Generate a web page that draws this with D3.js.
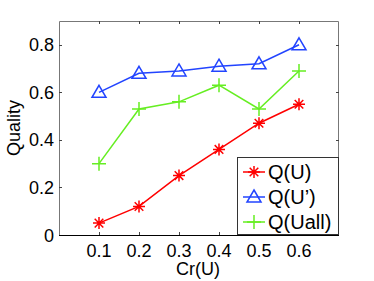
<!DOCTYPE html>
<html>
  <head>
    <meta charset="UTF-8">
    <title>Quality vs Cr(U)</title>
    <script src="https://d3js.org/d3.v7.min.js"></script>
    <style>
      body { margin: 0; background: #fff; }
      text { font-family: 'Liberation Sans', Arial, sans-serif; fill: #000; }
    </style>
  </head>
  <body>
    <div id="chart"></div>
    <script>
      const crValues = [0.1, 0.2, 0.3, 0.4, 0.5, 0.6];
      const qU = [0.05, 0.12, 0.25, 0.36, 0.47, 0.55];
      const qUPrime = [0.60, 0.68, 0.69, 0.71, 0.72, 0.80];
      const qUall = [0.30, 0.53, 0.56, 0.63, 0.53, 0.69];
      const yTicks = [0, 0.2, 0.4, 0.6, 0.8];
      const seriesNames = ['Q(U)', 'Q(U\u2019)', 'Q(Uall)'];

      const width = 374;
      const height = 281;
      const margin = { top: 21, right: 35, bottom: 46, left: 59 };

      const series = [
        { name: seriesNames[0], values: qU, color: '#ff0000', marker: 'star' },
        { name: seriesNames[1], values: qUPrime, color: '#2244ff', marker: 'triangle' },
        { name: seriesNames[2], values: qUall, color: '#66ee22', marker: 'plus' }
      ];

      const svg = d3.select('#chart')
        .append('svg')
        .attr('width', width)
        .attr('height', height);

      const x = d3.scaleLinear()
        .domain([0, 0.7])
        .range([margin.left, width - margin.right]);

      const y = d3.scaleLinear()
        .domain([0, 0.9])
        .range([height - margin.bottom, margin.top]);

      // frame
      const x0 = x.range()[0], x1 = x.range()[1];
      const y0 = y.range()[0], y1 = y.range()[1];
      svg.append('path')
        .attr('d', `M${x0 + 0.5},${y0}V${y1 + 0.5}H${x1 - 0.5}V${y0}`)
        .attr('fill', 'none')
        .attr('stroke', '#777');

      // ticks, pointing inwards on all four sides
      const tickLen = 3;
      crValues.forEach((v) => {
        const px = Math.round(x(v)) + 0.5;
        svg.append('line').attr('x1', px).attr('x2', px)
          .attr('y1', y0).attr('y2', y0 - tickLen).attr('stroke', '#444');
        svg.append('line').attr('x1', px).attr('x2', px)
          .attr('y1', y1).attr('y2', y1 + tickLen).attr('stroke', '#444');
      });
      yTicks.forEach((v) => {
        const py = Math.round(y(v)) + 0.5;
        svg.append('line').attr('x1', x0).attr('x2', x0 + tickLen)
          .attr('y1', py).attr('y2', py).attr('stroke', '#444');
        svg.append('line').attr('x1', x1).attr('x2', x1 - tickLen)
          .attr('y1', py).attr('y2', py).attr('stroke', '#444');
      });

      svg.append('line')
        .attr('x1', x0).attr('x2', x1)
        .attr('y1', y0 + 0.5).attr('y2', y0 + 0.5)
        .attr('stroke', '#000');

      // tick labels
      svg.append('g').selectAll('text')
        .data(crValues)
        .enter().append('text')
        .attr('x', (d) => x(d))
        .attr('y', y0 + 22)
        .attr('text-anchor', 'middle')
        .attr('font-size', 18)
        .text((d) => d3.format('.1f')(d));

      svg.append('g').selectAll('text')
        .data(yTicks)
        .enter().append('text')
        .attr('x', x0 - 5)
        .attr('y', (d) => y(d) + 6.5)
        .attr('text-anchor', 'end')
        .attr('font-size', 18)
        .text((d) => d === 0 ? '0' : d3.format('.1f')(d));

      // axis titles
      svg.append('text')
        .attr('x', (x0 + x1) / 2 - 1)
        .attr('y', 275)
        .attr('text-anchor', 'middle')
        .attr('font-size', 18)
        .text('Cr(U)');

      svg.append('text')
        .attr('transform', `translate(20,${(y0 + y1) / 2}) rotate(-90)`)
        .attr('text-anchor', 'middle')
        .attr('font-size', 18)
        .text('Quality');

      const markerPath = (type) => {
        if (type === 'star') {
          return 'M-6,0H6M0,-6V6M-4.3,-4.3L4.3,4.3M-4.3,4.3L4.3,-4.3';
        }
        if (type === 'triangle') {
          return 'M0,-7L7,5H-7Z';
        }
        return 'M-7,0H7M0,-7V7';
      };

      const line = d3.line()
        .x((d, i) => x(crValues[i]))
        .y((d) => y(d));

      series.forEach((s) => {
        const g = svg.append('g');
        g.append('path')
          .datum(s.values)
          .attr('fill', 'none')
          .attr('stroke', s.color)
          .attr('stroke-width', 1.5)
          .attr('d', line);
        g.selectAll('path.m')
          .data(s.values)
          .enter().append('path')
          .attr('class', 'm')
          .attr('transform', (d, i) => `translate(${x(crValues[i])},${y(d)})`)
          .attr('d', markerPath(s.marker))
          .attr('fill', 'none')
          .attr('stroke', s.color)
          .attr('stroke-width', 1.5);
      });

      // legend
      const legend = svg.append('g');
      legend.append('rect')
        .attr('x', 237.5).attr('y', 157.5)
        .attr('width', x1 - 238).attr('height', y0 - 158)
        .attr('fill', '#fff')
        .attr('stroke', '#333');

      series.forEach((s, i) => {
        const ly = 172 + i * 25;
        legend.append('line')
          .attr('x1', 243).attr('x2', 265)
          .attr('y1', ly).attr('y2', ly)
          .attr('stroke', s.color)
          .attr('stroke-width', 1.5);
        legend.append('path')
          .attr('transform', `translate(254,${ly})`)
          .attr('d', markerPath(s.marker))
          .attr('fill', 'none')
          .attr('stroke', s.color)
          .attr('stroke-width', 1.5);
        legend.append('text')
          .attr('x', 268)
          .attr('y', ly + 7)
          .attr('font-size', 20)
          .text(s.name);
      });
    </script>
  </body>
</html>
